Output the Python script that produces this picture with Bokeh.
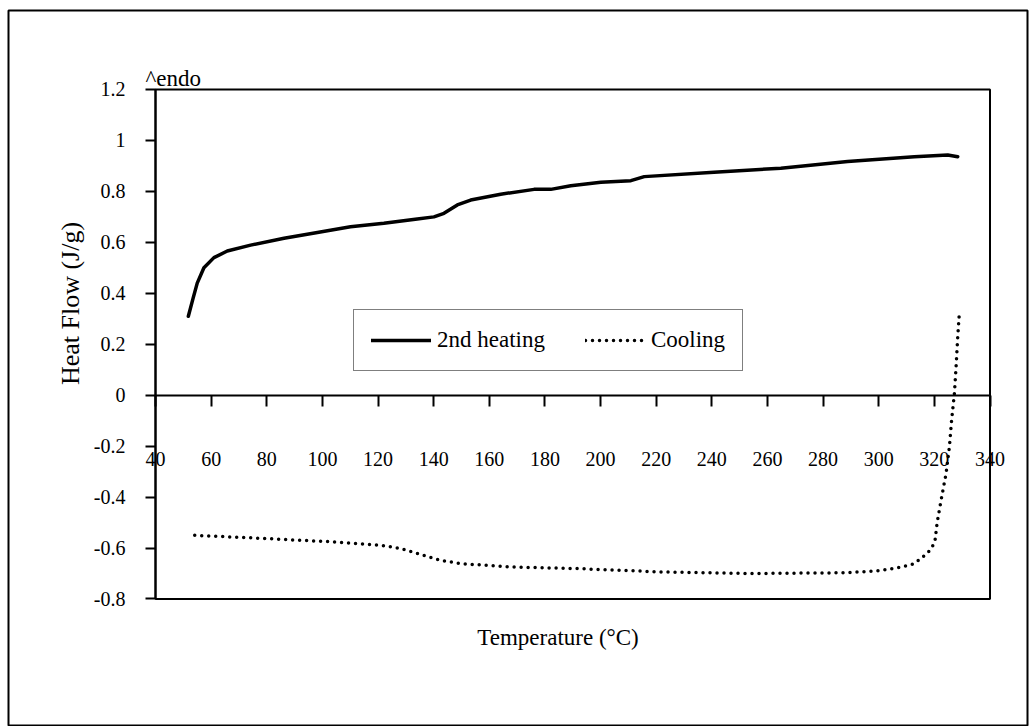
from bokeh.plotting import figure
from bokeh.models import (Range1d, FixedTicker, NumeralTickFormatter, Label,
                          Legend, LegendItem, BoxAnnotation)
from bokeh.embed import file_html
from bokeh.resources import INLINE

# ---- data ----
heat_T = [51.8, 53.5, 55.0, 57.4, 61.0, 65.8, 74.2, 86.2, 98.2, 110.1, 122.1, 134.1,
          140.1, 143.7, 148.5, 153.3, 164.1, 176.1, 182.1, 189.3, 200.1, 210.9,
          215.7, 240.8, 264.8, 288.8, 312.8, 324.8, 328.4]
heat_v = [0.31, 0.38, 0.44, 0.50, 0.54, 0.566, 0.589, 0.616, 0.639, 0.661, 0.675,
          0.692, 0.70, 0.714, 0.747, 0.766, 0.789, 0.808, 0.808, 0.822, 0.836,
          0.842, 0.858, 0.875, 0.891, 0.917, 0.936, 0.943, 0.936]

cool_T = [54.1, 80.2, 104.1, 121.0, 128.1, 135.3, 142.5, 149.7, 162.9, 170.1,
          192.9, 200.1, 222.8, 252.8, 288.8, 300.8, 308.0, 312.8, 316.4, 318.8,
          320.2, 321.0, 322.4, 324.2, 325.4, 326.2, 327.2, 327.8, 328.4, 329.0]
cool_v = [-0.550, -0.563, -0.576, -0.589, -0.602, -0.625, -0.648, -0.661, -0.671,
          -0.675, -0.681, -0.685, -0.694, -0.700, -0.697, -0.688, -0.675, -0.661,
          -0.630, -0.605, -0.574, -0.50, -0.413, -0.308, -0.203, -0.098, 0.007,
          0.111, 0.229, 0.327]

x_ticks = [40, 60, 80, 100, 120, 140, 160, 180, 200, 220, 240, 260, 280, 300, 320, 340]
y_ticks = [-0.8, -0.6, -0.4, -0.2, 0, 0.2, 0.4, 0.6, 0.8, 1.0, 1.2]
x_min, x_max = 40, 340
y_min, y_max = -0.8, 1.2

series_names = ["2nd heating", "Cooling"]
x_title = "Temperature (\u00b0C)"
y_title = "Heat Flow (J/g)"
endo_text = "^endo"

FONT = "Liberation Serif"

# The frame covers the whole bordered page area; the plot box sits inside it.
p = figure(width=1036, height=726, output_backend="svg", toolbar_location=None,
           x_range=Range1d(-12.85, 353.48), y_range=Range1d(-1.3005, 1.5101),
           frame_width=1019, frame_height=716,
           min_border_left=8, min_border_top=10, min_border_right=9,
           min_border_bottom=0, background_fill_color="white",
           border_fill_color="white")

p.outline_line_color = "black"
p.outline_line_width = 2
p.xgrid.visible = False
p.ygrid.visible = False

# x axis crossing at y = 0
xa = p.xaxis[0]
xa.fixed_location = 0
xa.bounds = (x_min, x_max)
xa.ticker = FixedTicker(ticks=x_ticks)
xa.axis_line_color = "black"
xa.axis_line_width = 2
xa.major_tick_line_width = 2
xa.major_tick_in = 0
xa.major_tick_out = 11
xa.minor_tick_line_color = None
xa.major_label_standoff = 46
xa.major_label_text_font = FONT
xa.major_label_text_font_size = "20px"
xa.major_label_text_color = "black"

ya = p.yaxis[0]
ya.fixed_location = x_min
ya.bounds = (y_min, y_max)
ya.ticker = FixedTicker(ticks=y_ticks)
ya.formatter = NumeralTickFormatter(format="0.[0]")
ya.axis_line_color = "black"
ya.axis_line_width = 2
ya.major_tick_line_width = 2
ya.major_tick_in = 0
ya.major_tick_out = 10
ya.minor_tick_line_color = None
ya.major_label_standoff = 20
ya.major_label_text_font = FONT
ya.major_label_text_font_size = "20px"
ya.major_label_text_color = "black"

# plot-area box
p.add_layout(BoxAnnotation(left=x_min, right=x_max, bottom=y_min, top=y_max,
                           fill_alpha=0, line_color="black", line_alpha=1.0,
                           line_width=2, level="underlay"))

r_heat = p.line(heat_T, heat_v, line_color="black", line_width=3.5,
                line_join="round", line_cap="round")
r_cool = p.line(cool_T, cool_v, line_color="black", line_width=3.5,
                line_dash="0 7", line_cap="round")

legend = Legend(items=[LegendItem(label=series_names[0], renderers=[r_heat]),
                       LegendItem(label=series_names[1], renderers=[r_cool])],
                orientation="horizontal", location=(345, 355),
                glyph_width=60, glyph_height=20, label_standoff=6, spacing=40,
                padding=17, margin=0,
                label_text_font=FONT, label_text_font_size="23px",
                label_text_color="black",
                border_line_color="black", border_line_width=1.5,
                background_fill_color="white", background_fill_alpha=1)
p.add_layout(legend, "center")

p.add_layout(Label(x=36.4, y=1.243, text=endo_text, text_font=FONT,
                   text_font_size="23px", text_align="left",
                   text_baseline="alphabetic", text_color="black"))
p.add_layout(Label(x=184.7, y=-0.951, text=x_title, text_font=FONT,
                   text_font_size="23px", text_align="center",
                   text_baseline="middle", text_color="black"))
p.add_layout(Label(x=9.44, y=0.36, text=y_title, text_font=FONT,
                   text_font_size="26px", text_align="center",
                   text_baseline="middle", angle=1.5708, text_color="black"))

open("out.html", "w").write(file_html(p, INLINE))
